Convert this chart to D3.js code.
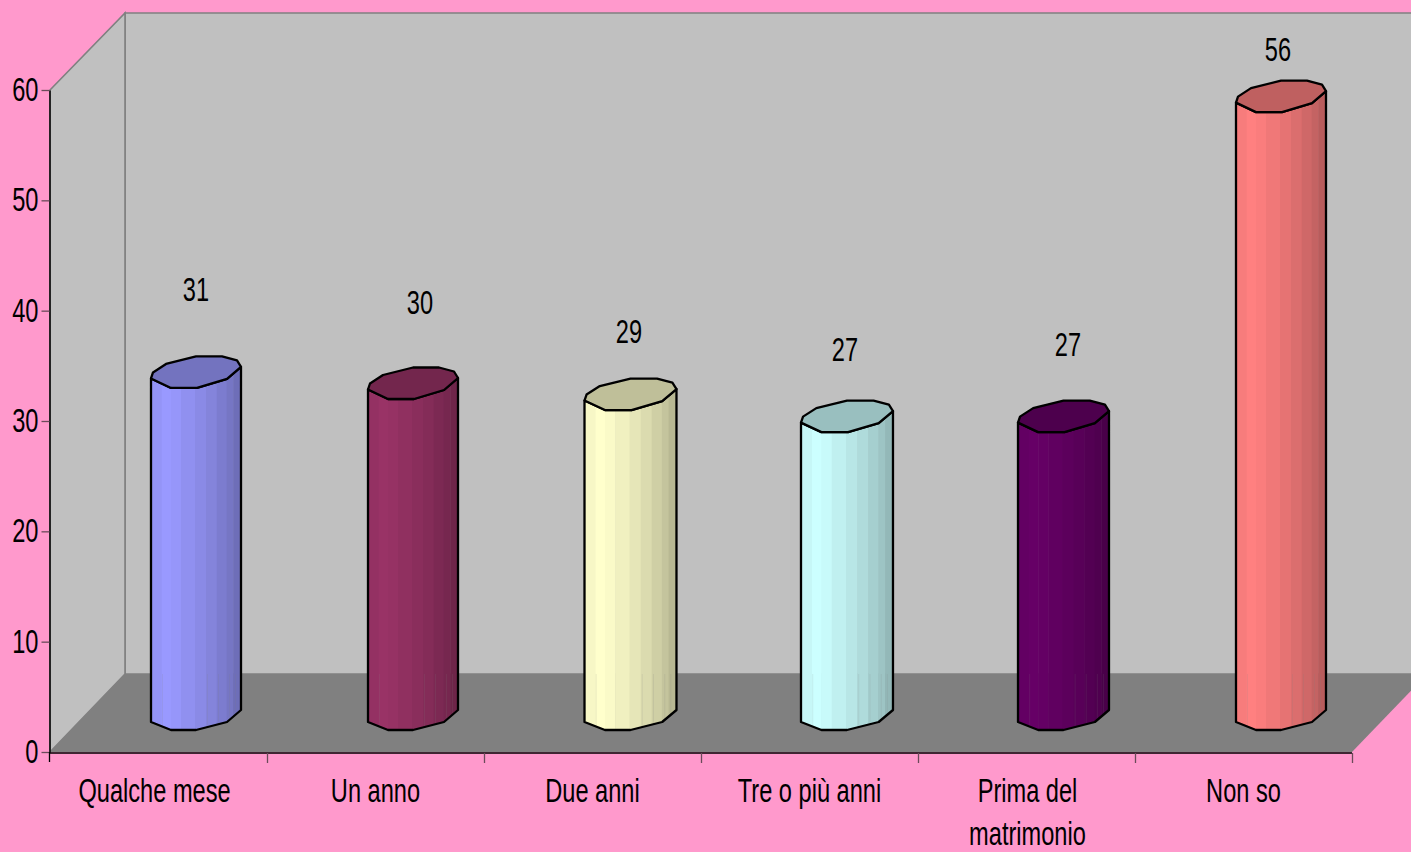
<!DOCTYPE html>
<html><head><meta charset="utf-8">
<style>html,body{margin:0;padding:0;background:#FF99CC;overflow:hidden}svg{display:block}
text{font-family:"Liberation Sans",sans-serif;fill:#000}</style>
<script src="https://cdn.jsdelivr.net/npm/d3@7/dist/d3.min.js"></script></head><body>
<script>
const categories = ["Qualche mese","Un anno","Due anni","Tre o più anni","Prima del\nmatrimonio","Non so"];
const values = [31,30,29,27,27,56];
const yTicks = [0,10,20,30,40,50,60];
const barColors = ["#9999FF","#993366","#FFFFCC","#CCFFFF","#660066","#FF8080"];

const W=1411,H=852,FS=33.5,SX=0.705;
const svg=d3.select("body").append("svg").attr("width",W).attr("height",H);
const x=d3.scaleBand().domain(categories).range([50,1352]);
const y=d3.scaleLinear().domain([0,60]).range([752,90]);
const dx=75,dy=78;
const x0=50,x1=1352,yB=y(0),yT=y(60);
const poly=(pts)=>pts.map(p=>p.join(",")).join(" ");

// walls and floor
svg.append("polygon").attr("points",poly([[x0+dx,yT-dy+1],[W+10,yT-dy+1],[W+10,yB-dy],[x0+dx,yB-dy]])).attr("fill","#C0C0C0").attr("stroke","#808080").attr("stroke-width",1.6);
svg.append("polygon").attr("points",poly([[x0,yT],[x0+dx,yT-dy+1],[x0+dx,yB-dy],[x0,yB]])).attr("fill","#C0C0C0").attr("stroke","#808080").attr("stroke-width",1.6);
svg.append("polygon").attr("points",poly([[x0,yB],[x0+dx,yB-dy],[x1+dx,yB-dy],[x1,yB]])).attr("fill","#808080");

// axes
const gy=svg.append("g").attr("transform",`translate(${x0-0.5},0)`)
 .call(d3.axisLeft(y).tickValues(yTicks).tickSize(8).tickSizeOuter(0));
gy.select(".domain").attr("stroke","#000").attr("stroke-width",1.5);
gy.selectAll(".tick line").attr("stroke","#6b4a5a").attr("stroke-width",1.3);
gy.selectAll("text").attr("font-size",FS).attr("font-family",null).attr("dy","0.31em")
  .attr("x",-11/SX).attr("transform",`scale(${SX},1)`);
svg.append("line").attr("x1",x0-0.5).attr("x2",x0-0.5).attr("y1",yB).attr("y2",yB+10).attr("stroke","#000").attr("stroke-width",1.3);
svg.append("line").attr("x1",x0).attr("x2",x1).attr("y1",yB+1).attr("y2",yB+1).attr("stroke","#000").attr("stroke-width",1.6);
const tickXs=categories.map(c=>x(c)).concat([x1]);
svg.selectAll(".xt").data(tickXs.slice(1)).join("line").attr("class","xt")
 .attr("x1",d=>d+.5).attr("x2",d=>d+.5).attr("y1",yB+1).attr("y2",yB+11).attr("stroke","#6b4a5a").attr("stroke-width",1.3);

// faceted cylinders, shapes given for a nominal width of 90
const inset=101, lift=22, floorY=yB-dy;
const leftNudge=[0,0,-0.5,-1,-1,0];
const widthScale=[1,1,1.022,1.022,1.011,1];
const bottomShape=[[0,-8],[20,0],[45,0],[76,-8],[90,-20]];
const frontShape=[[0,-9.5],[20,0],[46,0],[76,-9],[90,-21]];
const lidShape=[[90,-21],[86,-27.5],[71,-31.5],[45,-31.5],[15,-24],[2,-15.5],[0,-9.5],[20,0],[46,0],[76,-9]];
const facetEdges=[0,10.7,20,30,44,55,65.7,75.7,82.3,90];
const facetShade=[0.97,1,0.98,0.94,0.9,0.86,0.81,0.77,0.72];
const seams=[11,56,67,78,84];
function shade(c,k){const r=d3.rgb(c);return d3.rgb(r.r*k,r.g*k,r.b*k).formatHex();}

const bars=svg.selectAll(".bar").data(categories).join("g").attr("class","bar")
 .attr("transform",(c,i)=>`translate(${x(c)+inset+leftNudge[i]},0)`);
bars.each(function(c,i){
  const g=d3.select(this), base=yB-lift, topY=base-(yB-y(values[i])), color=barColors[i], ws=widthScale[i];
  const sx=v=>v*ws;
  const outline=frontShape.map(p=>[sx(p[0]),topY+p[1]])
     .concat(bottomShape.slice().reverse().map(p=>[sx(p[0]),base+p[1]]));
  const id="clip"+i;
  g.append("clipPath").attr("id",id).append("polygon").attr("points",poly(outline));
  const fg=g.append("g").attr("clip-path",`url(#${id})`);
  facetShade.forEach((s,k)=>{
    fg.append("rect").attr("x",sx(facetEdges[k])).attr("width",sx(facetEdges[k+1]-facetEdges[k])+.5)
      .attr("y",topY-40).attr("height",base-topY+50).attr("fill",shade(color,s));
  });
  seams.forEach(v=>{
    fg.append("rect").attr("x",sx(v)).attr("width",1).attr("y",floorY).attr("height",base-floorY+5)
      .attr("fill","#808080").attr("opacity",0.14);
  });
  g.append("polygon").attr("points",poly(outline)).attr("fill","none").attr("stroke","#000").attr("stroke-width",2.3).attr("stroke-linejoin","round");
  g.append("polygon").attr("points",poly(lidShape.map(p=>[sx(p[0]),topY+p[1]]))).attr("fill",shade(color,0.75)).attr("stroke","#000").attr("stroke-width",2.3).attr("stroke-linejoin","round");
});

// value labels, hand-placed in the original
const labelDx=[0,7,-1,-2,4,-3];
const labelRise=[98,96,78,82,87,62];
svg.selectAll(".val").data(values).join("text").attr("class","val")
 .attr("transform",(d,i)=>`translate(${x(categories[i])+inset+45+labelDx[i]},${(yB-lift-(yB-y(d)))-labelRise[i]}) scale(${SX},1)`)
 .attr("text-anchor","middle").attr("dy","0.33em").attr("font-size",FS).text(d=>d);

// category labels
const catShift=[-4,0,0,0,1,0];
categories.forEach((c,i)=>{
  c.split("\n").forEach((line,j)=>{
    svg.append("text").attr("transform",`translate(${x(c)+x.bandwidth()/2+catShift[i]},${802+j*43}) scale(${SX},1)`)
     .attr("text-anchor","middle").attr("font-size",FS).text(line);
  });
});
</script></body></html>
